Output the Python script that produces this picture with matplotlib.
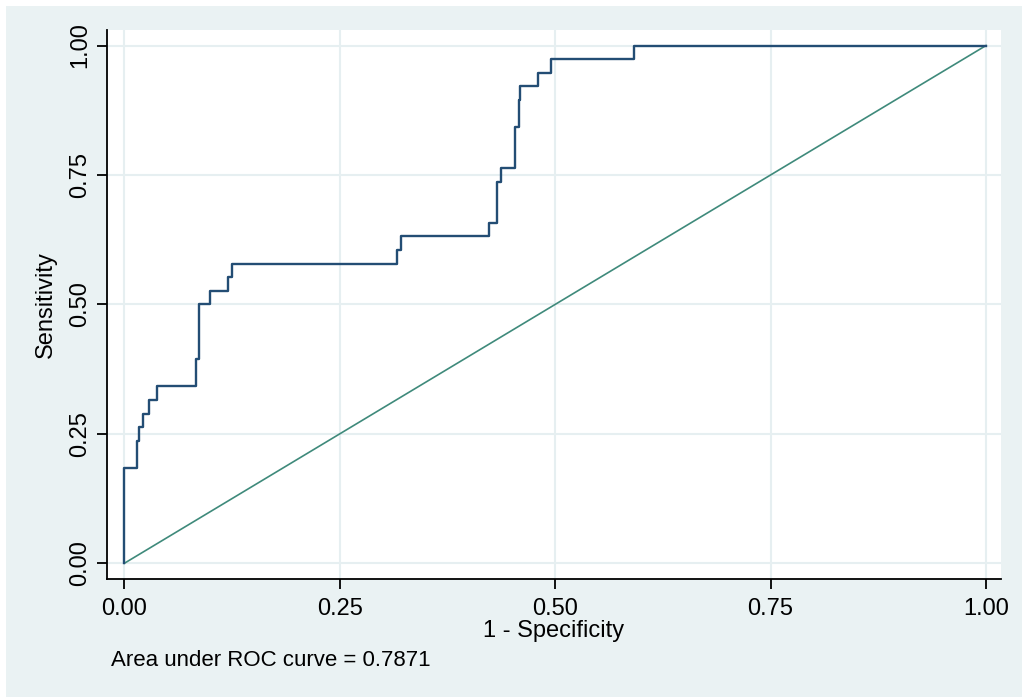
import matplotlib
matplotlib.use("Agg")
import matplotlib.pyplot as plt
from matplotlib.patches import Rectangle

plt.rcParams['font.family'] = ['Liberation Sans', 'DejaVu Sans']

# ROC curve vertices (1 - specificity, sensitivity), drawn as post steps
fpr = [0.0, 0.0, 0.0151, 0.0174, 0.022, 0.0283, 0.0376, 0.0832, 0.087, 0.100,
       0.120, 0.125, 0.316, 0.321, 0.423, 0.432, 0.437, 0.453, 0.4575, 0.459,
       0.480, 0.495, 0.592, 1.0]
sens = [0.0, 0.184, 0.237, 0.263, 0.289, 0.316, 0.342, 0.395, 0.500, 0.526,
        0.553, 0.579, 0.605, 0.632, 0.658, 0.737, 0.763, 0.842, 0.895, 0.921,
        0.947, 0.974, 1.0, 1.0]
ref_line = [0.0, 1.0]
ticks = [0.0, 0.25, 0.5, 0.75, 1.0]
tick_labels = ["0.00", "0.25", "0.50", "0.75", "1.00"]
auc = 0.7871

W, H = 1022, 697
fig = plt.figure(figsize=(W / 100, H / 100), dpi=100, facecolor="white")
# graph region background
fig.patches.append(Rectangle((6 / W, 0), 1 - 6 / W, 1 - 6 / H, transform=fig.transFigure,
                             facecolor="#eaf2f3", edgecolor="none", zorder=-10))

ax = fig.add_axes([107 / W, 1 - 579 / H, (1001 - 107) / W, (579 - 30) / H])
ax.set_zorder(1)
ax.set_facecolor("white")

ax.plot(ref_line, ref_line, color="#3f8a7b", lw=1.2, zorder=2)
ax.step(fpr, sens, where="post", color="#234d74", lw=1.7, zorder=3)

ax.set_xlim(-0.0201, 1.0174)
ax.set_ylim(-0.0303, 1.030)
ax.set_xticks(ticks)
ax.set_xticklabels(tick_labels)
ax.set_yticks(ticks)
ax.set_yticklabels(tick_labels, rotation=90, va="center")
ax.grid(True, color="#e6eff1", lw=1.5, zorder=0)
ax.set_axisbelow(True)

for side in ["top", "right"]:
    ax.spines[side].set_visible(False)
for side in ["left", "bottom"]:
    ax.spines[side].set_linewidth(1.3)
    ax.spines[side].set_color("black")

ax.tick_params(axis="both", direction="out", length=7.5, width=1.3, colors="black",
               labelsize=17)
ax.tick_params(axis="x", pad=6)
ax.tick_params(axis="y", pad=4)

ax.set_xlabel("1 - Specificity", fontsize=17)
ax.set_ylabel("Sensitivity", fontsize=17)
ax.xaxis.label.set_va("center")
ax.yaxis.label.set_va("center")
ax.xaxis.set_label_coords(0.5, (579 - 631) / 549)
ax.yaxis.set_label_coords((46 - 107) / 894, 0.5)

fig.text(111 / W, 1 - 660 / H, "Area under ROC curve = %.4f" % auc,
         fontsize=16, ha="left", va="center")

fig.savefig("out.png", dpi=100)
